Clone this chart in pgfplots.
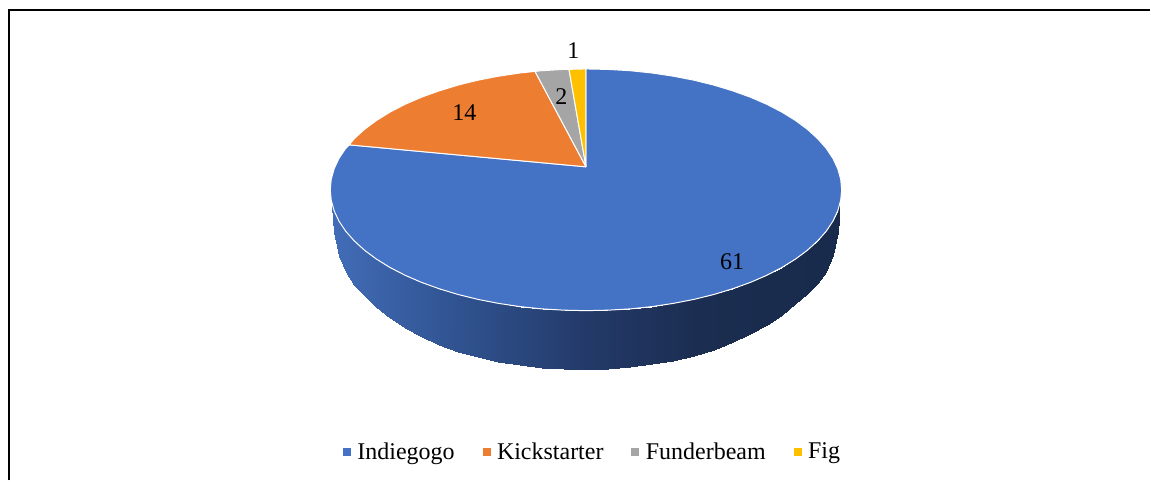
\documentclass[border=0pt]{standalone}
\usepackage{pgfplots}
\pgfplotsset{compat=1.18}
\usepackage{fontspec}
\setmainfont{Liberation Serif}
\definecolor{cBlue}{HTML}{4472C4}
\definecolor{cOrange}{HTML}{ED7D31}
\definecolor{cGray}{HTML}{A5A5A5}
\definecolor{cYellow}{HTML}{FFC000}
\begin{document}
\begin{tikzpicture}
\begin{axis}[
  scale only axis, width=1151pt, height=481pt,
  xmin=-0.6, xmax=1150.4, ymin=0, ymax=481, y dir=reverse,
  hide axis, clip=false,
  colormap={wall}{rgb255(330)=(66,109,184) rgb255(450)=(49,84,146) rgb255(586)=(35,58,105) rgb255(700)=(27,45,80) rgb255(842)=(25,43,76)},
  point meta min=330, point meta max=842,
  legend columns=-1,
  legend style={at={(axis cs:591.6,452)}, anchor=center, draw=none, fill=none, font=\fontsize{24}{28}\selectfont,
    inner sep=0pt, /tikz/every even column/.append style={column sep=28pt},
    /tikz/every odd column/.append style={column sep=7pt}},
  legend cell align=left,
  every axis legend/.append style={nodes={inner sep=0pt}},
]
% page extent
\addplot[forget plot, draw=none, fill=white] coordinates {(-0.6,0) (1150.4,0) (1150.4,481) (-0.6,481) (-0.6,0)};
% frame
\addplot[forget plot, black, line width=2.5pt] coordinates {(8.4,481) (8.4,10) (1150.4,10)};
% wall
\addplot[forget plot, surf, shader=interp, mesh/rows=2, point meta=explicit] table[meta=m] {
x y m
332 201 332
333.9 211 333.9
338.7 221.3 338.7
345.4 231.4 345.4
354 241.1 354
364.3 250.5 364.3
376.3 259.4 376.3
389.9 267.8 389.9
405 275.6 405
421.4 282.7 421.4
439.2 289.1 439.2
458 294.8 458
477.8 299.7 477.8
498.4 303.7 498.4
519.7 306.9 519.7
541.5 309.2 541.5
563.7 310.5 563.7
586 311 586
608.3 310.5 608.3
630.5 309.2 630.5
652.3 306.9 652.3
673.6 303.7 673.6
694.2 299.7 694.2
714 294.8 714
732.8 289.1 732.8
750.6 282.7 750.6
767 275.6 767
782.1 267.8 782.1
795.7 259.4 795.7
807.7 250.5 807.7
818 241.1 818
826.6 231.4 826.6
833.3 221.3 833.3
838.1 211 838.1
840 201 840
332 206 332
333.9 232 333.9
338.7 256 338.7
345.4 272 345.4
354 285 354
364.3 296 364.3
376.3 307.5 376.3
389.9 318 389.9
405 328 405
421.4 337 421.4
439.2 345 439.2
458 352 458
477.8 357.7 477.8
498.4 362.2 498.4
519.7 365.6 519.7
541.5 367.9 541.5
563.7 369.2 563.7
586 369.5 586
608.3 369 608.3
630.5 367.3 630.5
652.3 364.7 652.3
673.6 361 673.6
694.2 356 694.2
714 350 714
732.8 342 732.8
750.6 334 750.6
767 325 767
782.1 315 782.1
795.7 304.5 795.7
807.7 294 807.7
818 283.5 818
826.6 272 826.6
833.3 255 833.3
838.1 232 838.1
840 206 840
};
% Indiegogo
\addplot[forget plot, fill=cBlue, draw=white, line width=1pt, line join=round] coordinates {
(586,167) (586,69) (608.3,69.5) (630.5,70.8) (652.3,73.1) (673.6,76.3) (694.2,80.3) (714,85.2) (732.8,90.9) (750.6,97.3) (767,104.4) (782.1,112.2) (795.7,120.6) (807.7,129.5) (818,138.9) (826.6,148.6) (833.3,158.7) (838.1,169) (841,179.5) (842,190)
(841,200.5) (838.1,211) (833.3,221.3) (826.6,231.4) (818,241.1) (807.7,250.5) (795.7,259.4) (782.1,267.8) (767,275.6) (750.6,282.7) (732.8,289.1) (714,294.8) (694.2,299.7) (673.6,303.7) (652.3,306.9) (630.5,309.2) (608.3,310.5) (586,311)
(563.7,310.5) (541.5,309.2) (519.7,306.9) (498.4,303.7) (477.8,299.7) (458,294.8) (439.2,289.1) (421.4,282.7) (405,275.6) (389.9,267.8) (376.3,259.4) (364.3,250.5) (354,241.1) (345.4,231.4) (338.7,221.3) (333.9,211) (331,200.5) (330,190)
(331,179.5) (333.9,169) (338.7,158.7) (345.4,148.6) (349,145) (586,167)
};
% Kickstarter
\addplot[forget plot, fill=cOrange, draw=white, line width=1pt, line join=round] coordinates {
(586,167) (349,145) (354,138.9) (364.3,129.5) (376.3,120.6) (389.9,112.2) (405,104.4) (421.4,97.3) (439.2,90.9) (458,85.2) (477.8,80.3) (498.4,76.3) (519.7,73.1) (535,71.5) (586,167)
};
% Funderbeam
\addplot[forget plot, fill=cGray, draw=white, line width=1pt, line join=round] coordinates {
(586,167) (535,71.5) (541.5,70.8) (563.7,69.5) (569,69.4) (586,167)
};
% Fig
\addplot[forget plot, fill=cYellow, draw=white, line width=1pt, line join=round] coordinates {
(586,167) (569,69.4) (586,69) (586,167)
};
\node[font=\fontsize{24}{28}\selectfont] at (axis cs:573.3,51) {1};
\node[font=\fontsize{24}{28}\selectfont] at (axis cs:561.3,97) {2};
\node[font=\fontsize{24}{28}\selectfont] at (axis cs:464.3,113) {14};
\node[font=\fontsize{24}{28}\selectfont] at (axis cs:732.3,261.6) {61};
\addlegendimage{legend image code/.code={\fill[cBlue] (0pt,-3.5pt) rectangle (7pt,3.5pt);}}
\addlegendentry{Indiegogo}
\addlegendimage{legend image code/.code={\fill[cOrange] (0pt,-3.5pt) rectangle (7pt,3.5pt);}}
\addlegendentry{Kickstarter}
\addlegendimage{legend image code/.code={\fill[cGray] (0pt,-3.5pt) rectangle (7pt,3.5pt);}}
\addlegendentry{Funderbeam}
\addlegendimage{legend image code/.code={\fill[cYellow] (0pt,-3.5pt) rectangle (7pt,3.5pt);}}
\addlegendentry{Fig}
\end{axis}
\end{tikzpicture}
\end{document}
